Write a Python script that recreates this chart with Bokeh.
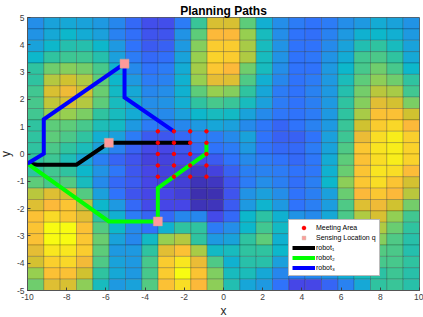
from bokeh.plotting import figure
from bokeh.models import ColumnDataSource, LinearColorMapper, FixedTicker, Legend, LegendItem
from bokeh.embed import file_html
from bokeh.resources import INLINE
import numpy as np

title_text = "Planning Paths"
xlabel = "x"
ylabel = "y"
x_ticks = [-10, -8, -6, -4, -2, 0, 2, 4, 6, 8, 10]
y_ticks = [-5, -4, -3, -2, -1, 0, 1, 2, 3, 4, 5]

# cell values, top row first (24 x 24)
heat_rows = [
 [2.7,3.3,3.5,3.3,3.0,2.5,1.8,1.2,1.2,2.2,5.2,8.2,8.2,6.0,3.7,2.7,2.2,2.0,2.2,2.7,3.0,3.6,3.3,2.8],
 [2.8,3.5,4.0,3.6,3.2,2.4,1.9,1.3,1.3,2.8,6.0,9.0,9.0,7.0,4.3,2.7,2.0,1.9,2.4,3.0,3.8,4.0,3.7,3.0],
 [3.3,4.0,4.7,4.7,4.0,3.0,2.0,1.5,1.6,3.0,6.7,9.5,9.5,7.3,4.3,2.8,2.0,2.0,2.6,3.3,4.6,5.0,4.3,3.3],
 [4.0,5.0,5.3,5.3,4.7,3.2,2.2,1.8,1.9,3.3,7.0,9.7,9.5,7.4,4.3,2.8,2.0,2.1,2.8,3.6,5.4,5.6,5.0,3.5],
 [5.0,6.3,6.7,6.4,5.5,3.8,2.6,2.0,2.2,3.6,7.2,9.4,9.0,6.3,4.3,2.7,2.0,2.0,3.0,4.0,5.5,6.3,5.5,4.0],
 [5.0,7.5,8.0,7.4,6.0,4.0,3.0,2.2,2.4,3.8,7.0,8.5,8.3,5.7,3.7,2.5,2.0,2.2,3.0,4.4,6.0,6.8,6.3,5.0],
 [5.4,8.2,8.7,8.0,6.2,4.2,3.5,2.5,2.7,3.8,6.0,7.0,6.7,5.0,3.4,2.2,2.0,2.4,3.0,4.7,6.4,7.6,7.3,5.4],
 [5.5,7.7,8.1,7.5,6.0,4.3,3.6,2.7,2.8,3.7,5.0,5.5,5.2,4.3,3.2,2.2,2.0,2.3,3.0,5.0,6.7,8.4,8.1,6.5],
 [5.4,7.0,7.0,6.5,5.0,4.3,3.6,2.7,2.6,3.2,4.0,4.3,4.2,3.3,2.6,2.1,2.0,2.2,3.0,5.0,7.3,9.2,9.2,8.0],
 [5.0,6.0,6.0,5.5,4.5,4.2,3.0,2.2,2.0,2.5,3.0,3.4,3.2,2.6,2.1,1.7,2.0,2.4,3.0,5.2,8.0,9.5,9.8,9.0],
 [5.0,6.0,5.6,5.0,3.7,3.2,2.2,1.5,1.4,1.8,2.2,2.2,2.6,3.3,2.0,1.6,1.6,2.0,3.2,5.3,8.6,10.0,10.5,9.6],
 [5.0,5.6,5.0,4.4,3.2,2.4,1.6,1.1,1.0,1.4,1.8,2.0,2.2,3.0,2.0,1.8,1.8,2.2,3.3,5.7,9.4,10.2,10.5,9.7],
 [5.0,5.3,4.5,3.4,2.3,1.7,1.3,0.9,0.9,1.1,1.2,1.5,2.0,2.6,2.2,2.0,1.8,2.1,3.6,6.0,9.2,10.0,10.5,9.7],
 [5.0,5.4,5.0,4.0,2.8,2.1,1.4,1.0,0.9,0.8,0.6,0.9,1.6,2.3,2.4,2.2,2.0,2.1,3.8,6.2,9.3,10.2,10.0,9.1],
 [6.0,5.5,5.8,4.3,2.6,1.8,1.5,1.0,0.9,0.8,0.35,0.5,1.3,2.2,2.7,2.3,1.9,2.3,4.0,6.8,9.4,10.0,9.3,8.1],
 [7.6,8.3,8.0,5.8,3.2,2.0,1.3,1.0,1.0,0.8,0.25,0.3,1.3,2.8,3.2,2.7,2.0,2.3,3.2,6.2,9.0,9.4,9.0,7.6],
 [8.3,9.0,9.3,7.5,4.0,3.0,1.8,1.1,1.0,1.0,0.35,0.4,1.5,3.0,3.9,3.0,2.0,2.3,3.1,5.7,8.3,8.7,8.0,6.4],
 [9.2,9.9,9.4,8.4,5.0,3.7,2.2,1.7,1.8,2.5,2.5,1.1,1.8,4.0,4.9,3.8,2.8,2.6,3.5,5.6,7.4,8.2,6.9,5.4],
 [9.3,11.0,11.0,9.2,5.8,4.0,2.6,2.0,3.8,5.0,5.0,2.2,2.7,4.0,5.4,4.2,3.2,3.3,3.9,5.2,6.4,7.4,6.2,5.0],
 [9.2,11.2,11.2,9.4,6.2,3.3,2.5,4.2,7.0,7.5,5.0,3.0,3.3,5.0,6.0,3.8,3.0,3.2,4.0,5.2,6.2,6.7,5.7,4.8],
 [8.5,10.3,10.3,9.5,6.0,3.0,3.0,5.0,8.4,9.2,7.3,4.2,4.3,5.0,5.0,4.0,3.5,3.2,3.7,5.0,5.4,5.8,5.6,4.7],
 [8.1,9.6,9.8,8.8,5.7,3.3,3.0,5.5,9.5,10.3,8.6,5.7,3.8,4.8,4.8,3.2,3.0,3.0,3.2,4.3,5.0,5.5,5.5,5.0],
 [7.0,9.2,9.2,8.0,5.0,3.5,3.0,5.5,9.5,11.0,9.3,6.6,4.3,4.4,3.5,2.5,2.3,2.5,2.8,3.6,4.3,4.9,5.3,4.8],
 [6.3,8.3,8.2,6.8,4.3,3.0,3.3,5.8,9.2,10.0,9.0,6.8,4.6,3.4,3.0,2.0,1.0,1.0,1.7,2.4,3.5,5.0,5.2,4.8],
]

meet_x = [-3.35, -2.53, -1.70, -0.87]
meet_y = [0.83, 0.41, 0.0, -0.42, -0.83]

sense_x = [-5.05, -5.85, -3.35]
sense_y = [3.31, 0.41, -2.47]

robot1_x = [-10, -9.5, -7.5, -5.85, -1.68]
robot1_y = [-0.35, -0.39, -0.39, 0.41, 0.41]
robot2_x = [-10, -5.85, -3.35, -3.35, -0.87, -0.87]
robot2_y = [-0.35, -2.47, -2.47, -1.25, 0.02, 0.40]
robot3_x = [-10, -9.17, -9.17, -5.05, -5.05, -2.53]
robot3_y = [-0.35, 0.01, 1.27, 3.31, 2.07, 0.83]

# colour scale: parula-like anchors
anchor_levels = [0, 1, 2, 3, 4, 5, 6, 7, 8, 9, 10, 11]
anchor_colors = ["#3a2a9e", "#4646e8", "#2f74fb", "#1e9ae0", "#0db7cc", "#2fc3a0",
                 "#5dcc7a", "#98cf50", "#cfc230", "#fcb83a", "#f9dd25", "#f8fb12"]

rgb = np.array([[int(c[i:i+2], 16) for i in (1, 3, 5)] for c in anchor_colors], dtype=float)
lv = np.linspace(anchor_levels[0], anchor_levels[-1], 256)
palette = ["#%02x%02x%02x" % tuple(int(round(np.interp(l, anchor_levels, rgb[:, k]))) for k in range(3)) for l in lv]
mapper = LinearColorMapper(palette=palette, low=anchor_levels[0], high=anchor_levels[-1])

Z = np.array(heat_rows)
n_r, n_c = Z.shape
xe = np.linspace(-10, 10, n_c + 1)
ye = np.linspace(5, -5, n_r + 1)
L, T = np.meshgrid(xe[:-1], ye[:-1])
R, B = np.meshgrid(xe[1:], ye[1:])
src = ColumnDataSource(dict(left=L.ravel(), right=R.ravel(), top=T.ravel(), bottom=B.ravel(), z=Z.ravel()))

p = figure(width=428, height=320, output_backend="svg", toolbar_location=None,
           x_range=(-10, 10), y_range=(-5, 5), margin=(0, 0, -3, -5),
           min_border_left=27, min_border_right=4, min_border_top=17, min_border_bottom=27,
           background_fill_color="white", border_fill_color="white")
p.grid.visible = False
p.outline_line_color = "#666666"
p.outline_line_width = 1

p.title.text = title_text
p.title.align = "center"
p.title.text_font = "Liberation Sans"
p.title.text_font_size = "12px"
p.title.text_font_style = "bold"
p.title.text_color = "black"
p.title.offset = 0
p.title.standoff = 0

for ax, ticks in ((p.xaxis[0], x_ticks), (p.yaxis[0], y_ticks)):
    ax.ticker = FixedTicker(ticks=ticks)
    ax.major_label_overrides = {t: str(t) for t in ticks}
    ax.major_label_text_font = "Liberation Sans"
    ax.major_label_text_font_size = "8.5px"
    ax.major_label_text_color = "#404040"
    ax.major_tick_in = 3
    ax.major_tick_out = 0
    ax.minor_tick_in = 0
    ax.minor_tick_out = 0
    ax.major_tick_line_color = "#404040"
    ax.axis_line_color = "#555555"
    ax.major_label_standoff = 3
    ax.axis_label_text_font = "Liberation Sans"
    ax.axis_label_text_font_size = "12px"
    ax.axis_label_text_font_style = "normal"
    ax.axis_label_text_color = "#262626"
    ax.axis_label_standoff = 1
p.xaxis[0].axis_label = xlabel
p.yaxis[0].axis_label = ylabel

p.quad(left="left", right="right", top="top", bottom="bottom", source=src,
       fill_color={"field": "z", "transform": mapper}, line_color="black", line_alpha=0.25, line_width=0.8)

r1 = p.line(robot1_x, robot1_y, line_color="black", line_width=4, line_join="miter")
r2 = p.line(robot2_x, robot2_y, line_color="#00ff00", line_width=4, line_join="miter")
r3 = p.line(robot3_x, robot3_y, line_color="#0000ff", line_width=4, line_join="miter")

sq = p.scatter(sense_x, sense_y, marker="square", size=9, fill_color="#ff9a9a", line_color="#c8a890", line_width=0.5)

mx, my = np.meshgrid(meet_x, meet_y)
dots = p.scatter(mx.ravel(), my.ravel(), marker="circle", size=3.5, fill_color="#ff0000", line_color="#ff0000")

legend = Legend(items=[
    LegendItem(label="Meeting Area", renderers=[dots]),
    LegendItem(label="Sensing Location q", renderers=[sq]),
    LegendItem(label="robot\u2081", renderers=[r1]),
    LegendItem(label="robot\u2082", renderers=[r2]),
    LegendItem(label="robot\u2083", renderers=[r3]),
], location=(261, 14), orientation="vertical", background_fill_color="white", background_fill_alpha=1,
   border_line_color="#777777", border_line_width=1,
   label_text_font="Liberation Sans", label_text_font_size="7px", label_text_color="black",
   glyph_width=23, glyph_height=9, label_height=9, label_standoff=1, spacing=1, padding=3, margin=0)
p.add_layout(legend)

open("out.html", "w").write(file_html(p, INLINE))
